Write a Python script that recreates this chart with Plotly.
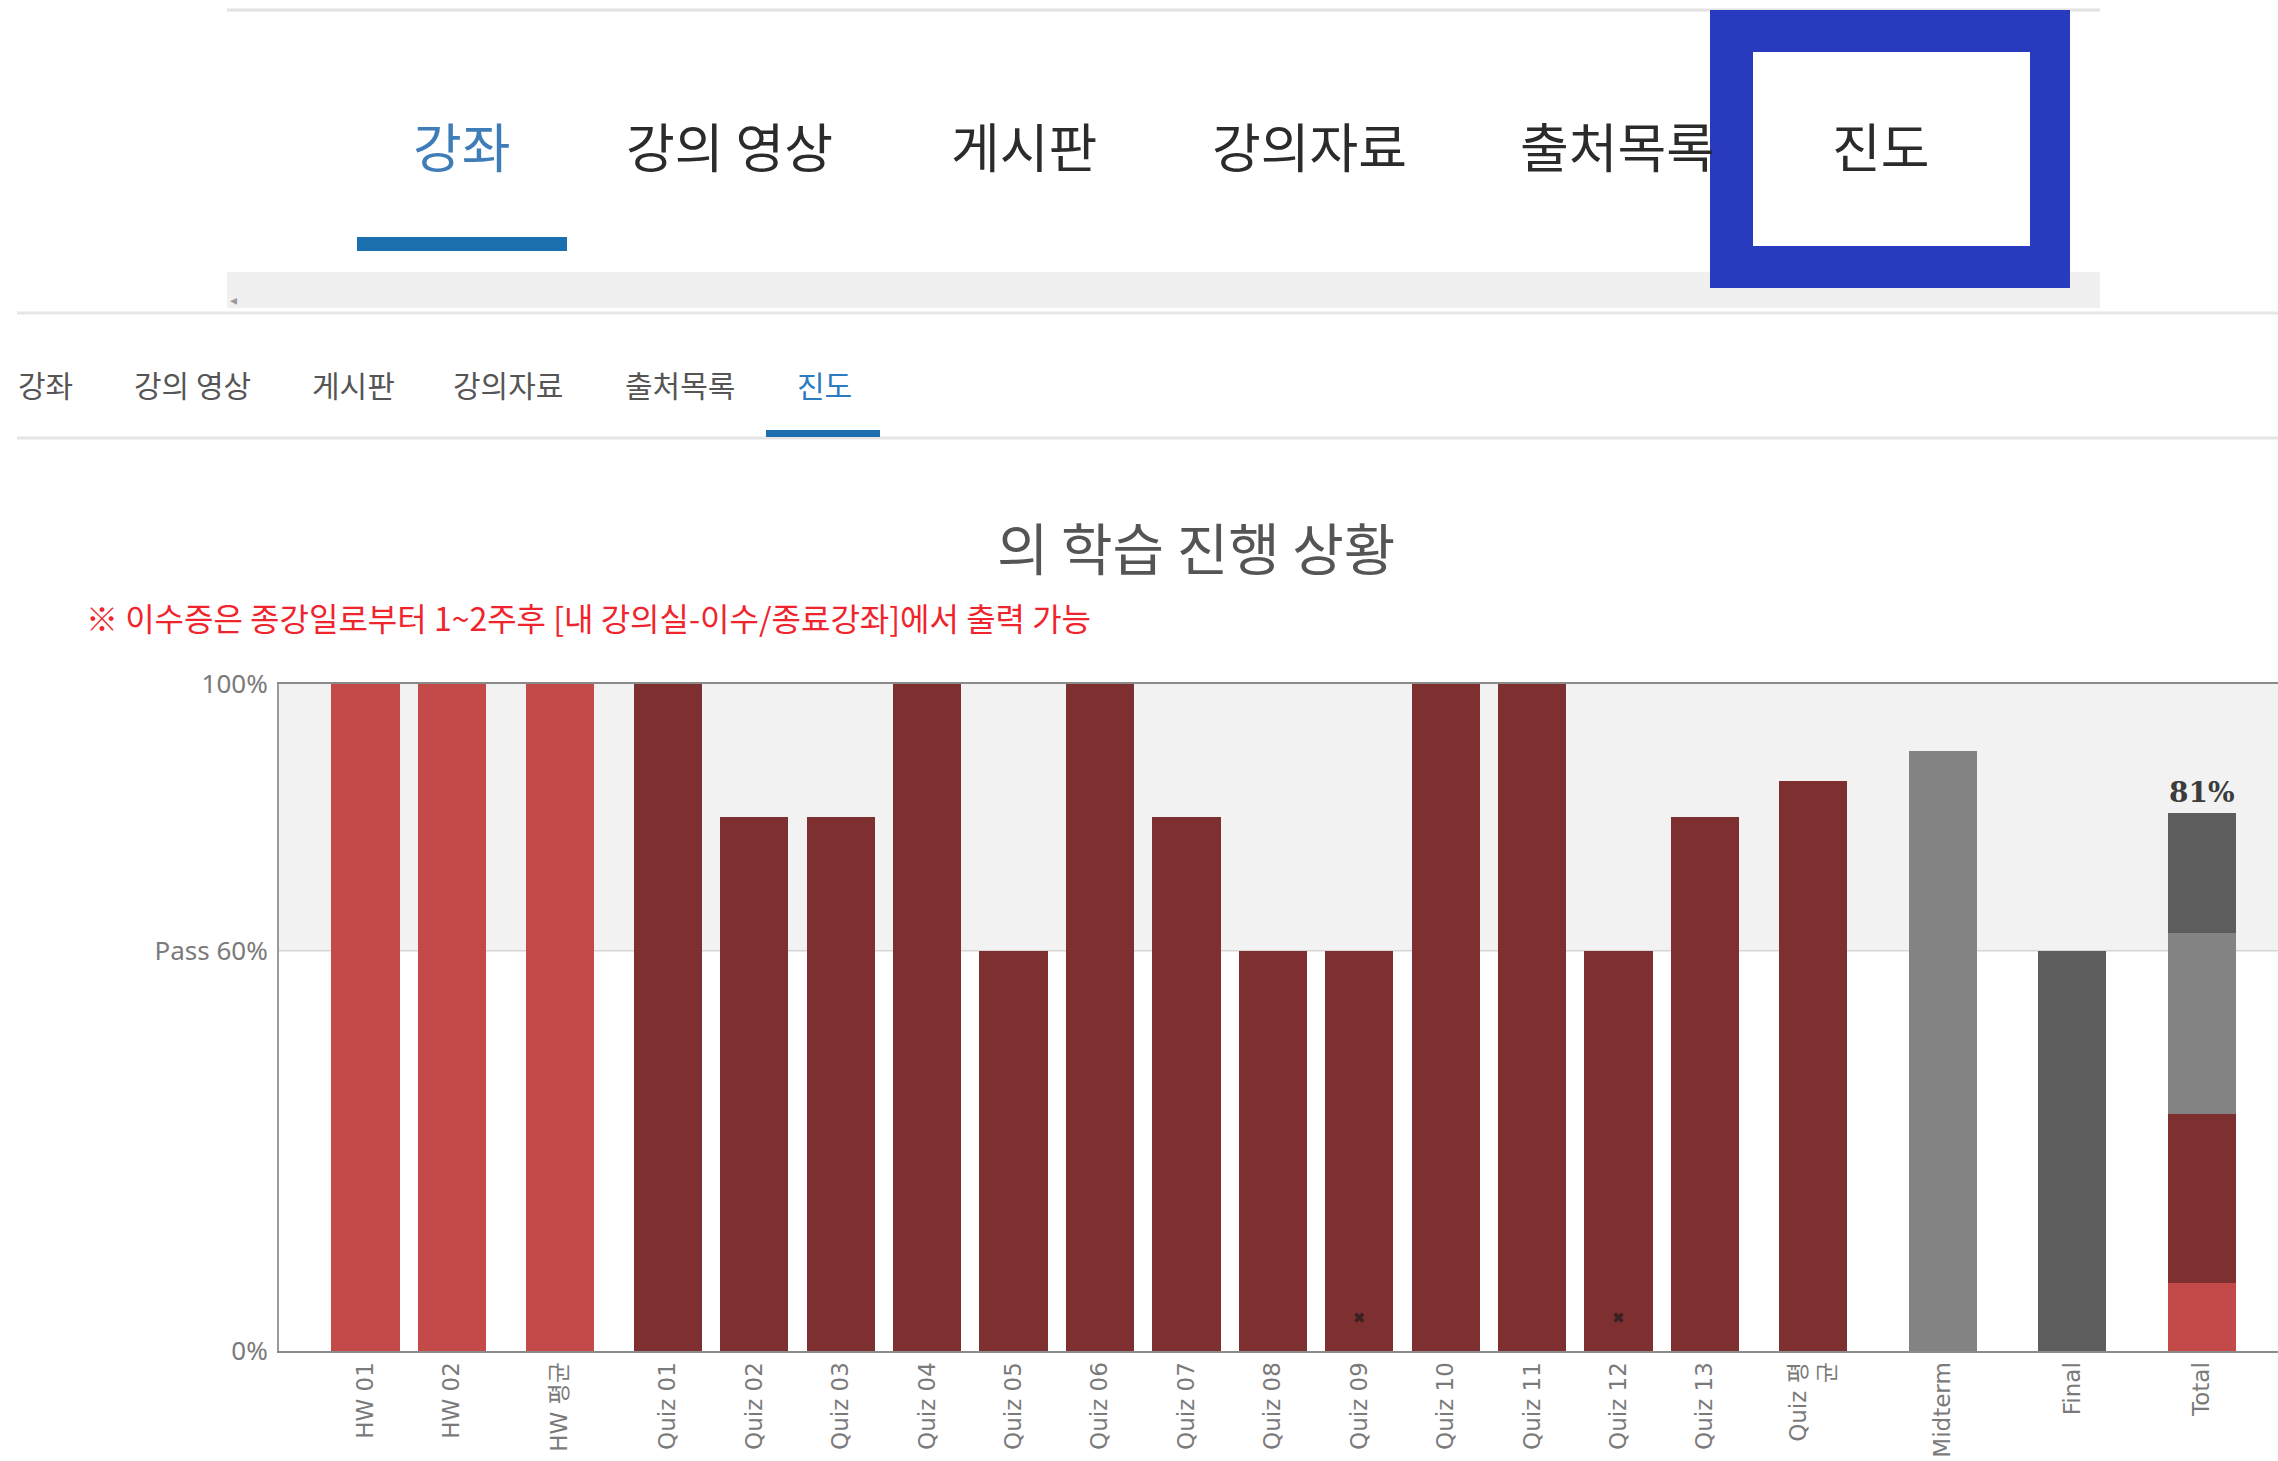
import plotly.graph_objects as go

# ---------------- data ----------------
hw_items = ["HW 01", "HW 02"]
hw_values = [100, 100]
hw_avg_label = "HW 평균"
hw_avg_value = 100
quiz_items = ["Quiz 01", "Quiz 02", "Quiz 03", "Quiz 04", "Quiz 05", "Quiz 06", "Quiz 07",
              "Quiz 08", "Quiz 09", "Quiz 10", "Quiz 11", "Quiz 12", "Quiz 13"]
quiz_values = [100, 80, 80, 100, 60, 100, 80, 60, 60, 100, 100, 60, 80]
quiz_avg_label = "Quiz 평균"
quiz_avg_value = 85.4
midterm_label = "Midterm"
midterm_value = 90
final_label = "Final"
final_value = 60
total_label = "Total"
total_parts = [10.2, 25.4, 27.0, 18.0]   # HW, Quiz, Midterm, Final contributions
flagged_items = ["Quiz 09", "Quiz 12"]
flag_level = 5

y_tick_values = [0, 60, 100]
y_tick_labels = ["0%", "Pass 60%", "100%"]

top_tabs = ["강좌", "강의 영상", "게시판", "강의자료", "출처목록", "진도"]
sub_tabs = ["강좌", "강의 영상", "게시판", "강의자료", "출처목록", "진도"]
title_text = "의 학습 진행 상황"
note_text = "※ 이수증은 종강일로부터 1~2주후 [내 강의실-이수/종료강좌]에서 출력 가능"

# ---------------- styles ----------------
C_HW = "#C44A4A"
C_QUIZ = "#7E3030"
C_MID = "#838383"
C_FIN = "#5D5D5D"
BLUE = "#1B6FAF"

FIG_W, FIG_H = 2278, 1461
L, R, T, B = 279, 0, 684, 110
PW, PH = FIG_W - L - R, FIG_H - T - B


def px(xp):
    return (xp - L) / PW


def py(yp):
    return (T + PH - yp) / PH


# category positions: unit step inside a group, wider gaps between groups
groups = [(hw_items, 0.0), ([hw_avg_label], 1.25), (quiz_items, 1.25), ([quiz_avg_label], 1.25),
          ([midterm_label], 1.5), ([final_label], 1.5), ([total_label], 1.5)]
pos = {}
cur = None
for items, gap in groups:
    for j, it in enumerate(items):
        if cur is None:
            cur = 0.0
        else:
            cur += gap if j == 0 else 1.0
        pos[it] = cur

all_items = [it for items, _ in groups for it in items]
tick_text = [it if it != quiz_avg_label else "Quiz 평<br>균" for it in all_items]

BW = 0.79
fig = go.Figure()

fig.add_trace(go.Bar(x=[pos[c] for c in hw_items + [hw_avg_label]],
                     y=hw_values + [hw_avg_value], width=BW, marker_color=C_HW,
                     marker_line_width=0, name="HW"))
fig.add_trace(go.Bar(x=[pos[c] for c in quiz_items + [quiz_avg_label]],
                     y=quiz_values + [quiz_avg_value], width=BW, marker_color=C_QUIZ,
                     marker_line_width=0, name="Quiz"))
fig.add_trace(go.Bar(x=[pos[midterm_label]], y=[midterm_value], width=BW, marker_color=C_MID,
                     marker_line_width=0, name="Midterm"))
fig.add_trace(go.Bar(x=[pos[final_label]], y=[final_value], width=BW, marker_color=C_FIN,
                     marker_line_width=0, name="Final"))
for val, col in zip(total_parts, [C_HW, C_QUIZ, C_MID, C_FIN]):
    fig.add_trace(go.Bar(x=[pos[total_label]], y=[val], width=BW, marker_color=col,
                         marker_line_width=0, name="Total"))

fig.add_trace(go.Scatter(x=[pos[c] for c in flagged_items], y=[flag_level] * len(flagged_items),
                         mode="markers", marker=dict(symbol="x", size=9, color="#3a2222",
                                                     line=dict(width=0)),
                         name="flag"))


def ann(xp, yp, text, size, color, family="Noto Sans CJK KR", xanchor="center"):
    return dict(x=px(xp), y=py(yp), xref="paper", yref="paper", text=text, showarrow=False,
                xanchor=xanchor, yanchor="middle",
                font=dict(family=family, size=size, color=color))


total_sum = sum(total_parts)
annotations = [
    dict(x=pos[total_label], y=total_sum, xref="x", yref="y", text=f"<b>{total_sum:.0f}%</b>",
         showarrow=False, xanchor="center", yanchor="bottom", yshift=2,
         font=dict(family="DejaVu Serif", size=28, color="#3c3c3c")),
    ann(1196, 545, title_text, 56, "#555555"),
    ann(84, 617, note_text, 32, "#F0242C", xanchor="left"),
    ann(233, 300, "◂", 14, "#9a9a9a", family="DejaVu Sans"),
]

top_x = [462, 729, 1024, 1309, 1617, 1881]
for i, t in enumerate(top_tabs):
    annotations.append(ann(top_x[i], 145, t, 53, "#3F7DB8" if i == 0 else "#2b2b2b"))
sub_x = [45, 192, 353, 508, 680, 824]
for i, t in enumerate(sub_tabs):
    annotations.append(ann(sub_x[i], 384, t, 30,
                           "#2B7BC0" if i == len(sub_tabs) - 1 else "#555555"))

shapes = [
    # pass band in chart
    dict(type="rect", xref="paper", yref="y", x0=0, x1=1, y0=60, y1=100,
         fillcolor="#F2F2F2", line_width=0, layer="below"),
    dict(type="line", xref="paper", yref="y", x0=0, x1=1, y0=60, y1=60,
         line=dict(color="#D6D6D6", width=1.5), layer="below"),
    # page chrome
    dict(type="line", xref="paper", yref="paper", x0=px(227), x1=px(2100), y0=py(10), y1=py(10),
         line=dict(color="#E2E2E2", width=3)),
    dict(type="rect", xref="paper", yref="paper", x0=px(227), x1=px(2100), y0=py(308), y1=py(272),
         fillcolor="#F0F0F0", line_width=0),
    dict(type="rect", xref="paper", yref="paper", x0=px(357), x1=px(567), y0=py(251), y1=py(237),
         fillcolor=BLUE, line_width=0),
    dict(type="rect", xref="paper", yref="paper", x0=px(1710), x1=px(2070), y0=py(288), y1=py(10),
         fillcolor="#283BBE", line_width=0),
    dict(type="rect", xref="paper", yref="paper", x0=px(1753), x1=px(2030), y0=py(246), y1=py(52),
         fillcolor="#FFFFFF", line_width=0),
    dict(type="line", xref="paper", yref="paper", x0=px(17), x1=px(2278), y0=py(313), y1=py(313),
         line=dict(color="#E6E6E6", width=3)),
    dict(type="line", xref="paper", yref="paper", x0=px(17), x1=px(2278), y0=py(438), y1=py(438),
         line=dict(color="#E6E6E6", width=3)),
    dict(type="rect", xref="paper", yref="paper", x0=px(766), x1=px(880), y0=py(437), y1=py(430),
         fillcolor=BLUE, line_width=0),
]

fig.update_layout(
    width=FIG_W, height=FIG_H,
    margin=dict(l=L, r=R, t=T, b=B, pad=0),
    paper_bgcolor="white", plot_bgcolor="white",
    barmode="stack", bargap=0, showlegend=False,
    annotations=annotations, shapes=shapes,
    font=dict(family="Noto Sans CJK KR"),
)
fig.update_xaxes(range=[-1.0, 22.13], tickmode="array",
                 tickvals=[pos[c] for c in all_items], ticktext=tick_text,
                 tickangle=-90, tickfont=dict(family="DejaVu Sans, Noto Sans CJK KR", size=23,
                                              color="#7a7a7a"),
                 showgrid=False, zeroline=False, showline=True, mirror=True,
                 linecolor="#8a8a8a", linewidth=2, ticks="", ticklen=0)
fig.update_yaxes(range=[0, 100], tickmode="array", tickvals=y_tick_values,
                 ticktext=y_tick_labels, tickfont=dict(family="Noto Sans", size=26, color="#7a7a7a"),
                 showgrid=False, zeroline=False, showline=True, linecolor="#9a9a9a", linewidth=2,
                 ticks="", ticklabelstandoff=4)

fig.write_html("out.html", config={"displayModeBar": False},
               post_script="document.body.style.margin='0';")
